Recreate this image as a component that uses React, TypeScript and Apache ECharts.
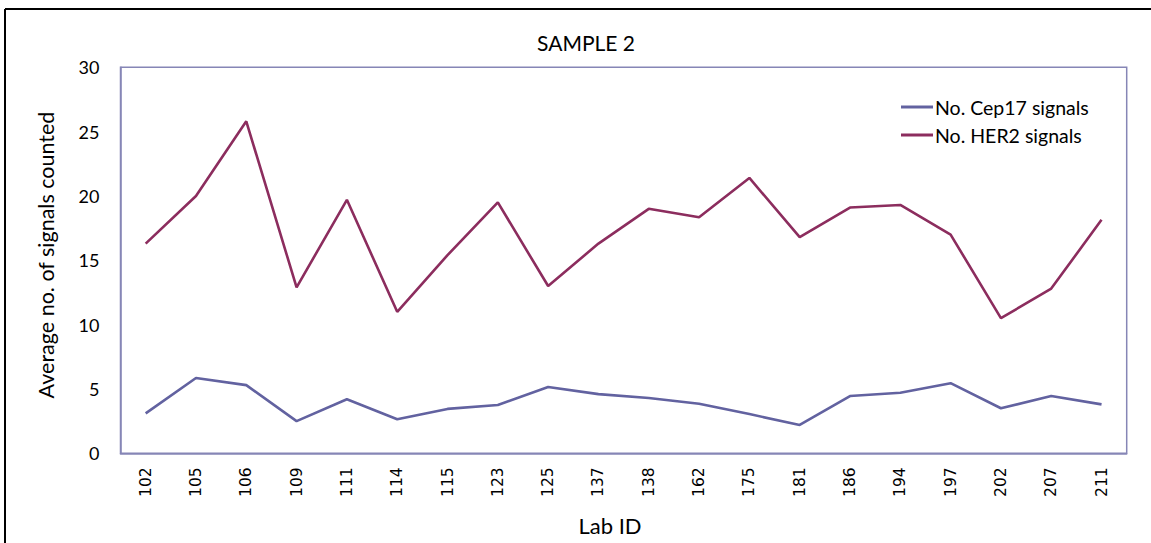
import React, { useEffect, useRef } from "react";
import * as echarts from "echarts";

const labIds = ["102", "105", "106", "109", "111", "114", "115", "123", "125", "137", "138", "162", "175", "181", "186", "194", "197", "202", "207", "211"];
const cep17 = [3.1, 5.85, 5.3, 2.5, 4.2, 2.65, 3.45, 3.75, 5.15, 4.6, 4.3, 3.85, 3.05, 2.2, 4.45, 4.7, 5.45, 3.5, 4.45, 3.8];
const her2 = [16.3, 20.0, 25.8, 12.9, 19.7, 11.0, 15.4, 19.5, 13.0, 16.3, 19.0, 18.35, 21.4, 16.8, 19.1, 19.3, 17.0, 10.5, 12.8, 18.15];
const yTicks = [0, 5, 10, 15, 20, 25, 30];

const FONT = "Lato, 'Open Sans', sans-serif";
const BORDER = "#8686b6";

export default function App() {
  const ref = useRef<HTMLDivElement>(null);
  useEffect(() => {
    const chart = echarts.init(ref.current!, null, { renderer: "svg" });
    chart.setOption({
      animation: false,
      backgroundColor: "#ffffff",
      title: {
        text: "SAMPLE 2",
        left: 581,
        top: 27,
        textAlign: "center",
        textStyle: { fontFamily: FONT, fontSize: 21, fontWeight: "normal", color: "#000" },
      },
      legend: {
        left: 896,
        top: 90,
        orient: "vertical",
        icon: "rect",
        itemWidth: 32,
        itemHeight: 3,
        itemGap: 4,
        align: "left",
        textStyle: { fontFamily: FONT, fontSize: 19.5, color: "#000", padding: [0, 0, 0, -3], lineHeight: 24 },
        data: ["No. Cep17 signals", "No. HER2 signals"],
      },
      grid: {
        left: 120.5,
        top: 67.3,
        right: 24.3,
        bottom: 89.7,
        show: true,
        borderColor: BORDER,
        borderWidth: 1.5,
        containLabel: false,
      },
      xAxis: {
        type: "category",
        data: labIds,
        boundaryGap: true,
        axisLine: { show: true, lineStyle: { color: BORDER, width: 1.5 } },
        axisTick: { show: false },
        axisLabel: {
          rotate: 90,
          margin: 14,
          interval: 0,
          fontFamily: "'DejaVu Sans', sans-serif",
          fontSize: 15.5,
          color: "#000",
        },
      },
      yAxis: {
        type: "value",
        min: yTicks[0],
        max: yTicks[yTicks.length - 1],
        interval: 5,
        axisLine: { show: true, lineStyle: { color: BORDER, width: 1.5 } },
        axisTick: { show: false },
        splitLine: { show: false },
        axisLabel: { margin: 21, fontFamily: FONT, fontSize: 18, color: "#000" },
      },
      series: [
        {
          name: "No. Cep17 signals",
          type: "line",
          data: cep17,
          symbol: "none",
          color: "#6262a0",
          lineStyle: { width: 2.6, color: "#6262a0" },
        },
        {
          name: "No. HER2 signals",
          type: "line",
          data: her2,
          symbol: "none",
          color: "#8c2d5e",
          lineStyle: { width: 2.6, color: "#8c2d5e" },
        },
      ],
      graphic: [
        {
          type: "line",
          shape: { x1: 5, y1: 9, x2: 1151, y2: 9 },
          style: { stroke: "#000", lineWidth: 2 },
        },
        {
          type: "line",
          shape: { x1: 5, y1: 9, x2: 5, y2: 543 },
          style: { stroke: "#000", lineWidth: 2 },
        },
        {
          type: "text",
          x: 46,
          y: 255,
          rotation: Math.PI / 2,
          style: {
            text: "Average no. of signals counted",
            fontFamily: FONT,
            fontSize: 21.5,
            fill: "#000",
            textAlign: "center",
            textVerticalAlign: "middle",
          },
        },
        {
          type: "text",
          x: 610,
          y: 525,
          style: {
            text: "Lab ID",
            fontFamily: FONT,
            fontSize: 22,
            fill: "#000",
            textAlign: "center",
            textVerticalAlign: "middle",
          },
        },
      ],
    });
    return () => chart.dispose();
  }, []);
  return (
    <div
      ref={ref}
      style={{ position: "fixed", left: 0, top: 0, width: 1151, height: 543 }}
    />
  );
}
